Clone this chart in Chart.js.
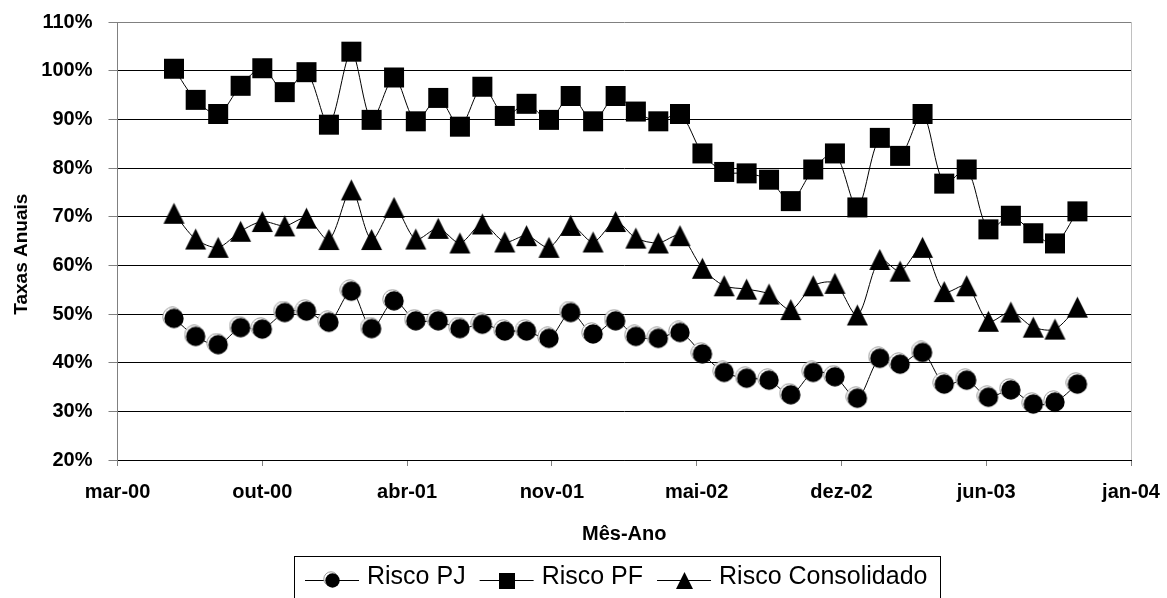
<!DOCTYPE html>
<html>
<head>
<meta charset="utf-8">
<title>Taxas Anuais</title>
<script src="https://cdn.jsdelivr.net/npm/chart.js@4.4.1/dist/chart.umd.min.js"></script>
<style>
  html, body { margin: 0; padding: 0; background: #fff; }
  canvas { display: block; }
</style>
</head>
<body>
<canvas id="riscoChart" width="1167" height="598"></canvas>
<script>
// meses dos dados (um ponto por mes)
const meses = [
  '2000-06', '2000-07', '2000-08', '2000-09', '2000-10', '2000-11', '2000-12',
  '2001-01', '2001-02', '2001-03', '2001-04', '2001-05', '2001-06', '2001-07',
  '2001-08', '2001-09', '2001-10', '2001-11', '2001-12', '2002-01', '2002-02',
  '2002-03', '2002-04', '2002-05', '2002-06', '2002-07', '2002-08', '2002-09',
  '2002-10', '2002-11', '2002-12', '2003-01', '2003-02', '2003-03', '2003-04',
  '2003-05', '2003-06', '2003-07', '2003-08', '2003-09', '2003-10', '2003-11'
];

const riscoPJ = [
  49.1, 45.4, 43.7, 47.2, 46.9, 50.3, 50.6, 48.3, 54.7, 47.0,
  52.7, 48.6, 48.6, 47.0, 47.9, 46.5, 46.5, 45.0, 50.3, 45.9,
  48.6, 45.4, 45.0, 46.2, 41.8, 38.0, 36.8, 36.4, 33.4, 38.0,
  37.1, 32.7, 40.9, 39.7, 42.1, 35.6, 36.4, 32.9, 34.4, 31.5,
  31.9, 35.6
];

const riscoPF = [
  100.4, 94.0, 91.1, 96.9, 100.5, 95.6, 99.7, 88.9, 103.9, 89.9,
  98.6, 89.6, 94.4, 88.5, 96.7, 90.7, 93.2, 89.9, 94.8, 89.6,
  94.8, 91.6, 89.6, 91.1, 83.0, 79.2, 78.9, 77.6, 73.2, 79.7,
  83.0, 71.9, 86.2, 82.5, 91.1, 76.8, 79.7, 67.4, 70.2, 66.6,
  64.5, 71.1
];

const riscoConsolidado = [
  70.7, 65.4, 63.7, 67.0, 69.0, 68.1, 69.7, 65.3, 75.5, 65.3,
  71.9, 65.4, 67.6, 64.6, 68.5, 64.8, 66.1, 63.7, 68.2, 64.8,
  69.0, 65.6, 64.6, 66.1, 59.4, 55.8, 55.1, 54.1, 50.9, 55.8,
  56.3, 49.8, 61.2, 58.8, 63.7, 54.6, 55.8, 48.5, 50.4, 47.3,
  46.9, 51.4
];

// eixo de datas: inicio e passo em dias, como no grafico original
const xInicio = '2000-03-15';
const xPassoDias = 200;
const xTickLabels = ['mar-00', 'out-00', 'abr-01', 'nov-01', 'mai-02', 'dez-02', 'jun-03', 'jan-04'];
const yMin = 20, yMax = 110, yPasso = 10;

const fonte = "'Liberation Sans', Arial, Helvetica, sans-serif";
Chart.defaults.font.family = fonte;
Chart.defaults.color = '#000';

function utc(s) {
  const p = s.split('-').map(Number);
  return Date.UTC(p[0], p[1] - 1, p[2] || 1);
}
function dias(s) {
  return Math.round((utc(s) - utc(xInicio)) / 864e5);
}

// marcadores estilo Excel
function marcador(tipo, tam) {
  const c = document.createElement('canvas');
  const s = tam + 4;
  c.width = s; c.height = s;
  const g = c.getContext('2d');
  const m = s / 2;
  if (tipo === 'circle') {
    const r = tam / 2 - 0.3;
    g.beginPath();
    g.arc(m - 1.5, m - 1.5, r, 0, Math.PI * 2);
    g.fillStyle = '#fff'; g.fill();
    g.strokeStyle = '#9a9a9a'; g.lineWidth = 1; g.stroke();
    g.beginPath();
    g.arc(m, m, r, 0, Math.PI * 2);
    g.fillStyle = '#000'; g.fill();
  } else if (tipo === 'rect') {
    g.fillStyle = '#000';
    g.fillRect(m - tam / 2, m - tam / 2, tam, tam);
  } else {
    g.fillStyle = '#000';
    g.beginPath();
    g.moveTo(m, m - tam / 2);
    g.lineTo(m + tam / 2, m + tam / 2);
    g.lineTo(m - tam / 2, m + tam / 2);
    g.closePath();
    g.fill();
  }
  return c;
}

const marcadores = [marcador('circle', 20), marcador('rect', 20), marcador('triangle', 21)];
const marcadoresLegenda = [marcador('circle', 15), marcador('rect', 16), marcador('triangle', 17)];

function serie(label, valores, i) {
  return {
    label: label,
    data: meses.map((m, k) => ({ x: dias(m), y: valores[k] })),
    borderColor: '#000',
    backgroundColor: '#000',
    borderWidth: 1,
    tension: 0.3,
    fill: false,
    pointStyle: marcadores[i],
    pointRadius: 10,
    pointHoverRadius: 10
  };
}

// legenda com moldura, desenhada abaixo do titulo do eixo x
const legendaPlugin = {
  id: 'legendaCaixa',
  afterDraw(chart) {
    const ctx = chart.ctx;
    const yLinha = 580.5, yTexto = 577;
    ctx.save();
    ctx.font = '25px ' + fonte;
    ctx.textBaseline = 'middle';
    ctx.textAlign = 'left';
    ctx.fillStyle = '#000';
    ctx.strokeStyle = '#000';
    ctx.lineWidth = 1;
    let x = 305;
    chart.data.datasets.forEach((ds, i) => {
      ctx.beginPath();
      ctx.moveTo(x, yLinha);
      ctx.lineTo(x + 54, yLinha);
      ctx.stroke();
      const m = marcadoresLegenda[i];
      ctx.drawImage(m, Math.round(x + 27 - m.width / 2), Math.round(yLinha - m.height / 2));
      ctx.fillText(ds.label, x + 62, yTexto);
      x += 62 + ctx.measureText(ds.label).width + 14;
    });
    ctx.strokeRect(294.5, 556.5, Math.round(x - 14 + 13 - 294), 60);
    ctx.restore();
  }
};

const config = {
  type: 'line',
  data: {
    datasets: [
      serie('Risco PJ', riscoPJ, 0),
      serie('Risco PF', riscoPF, 1),
      serie('Risco Consolidado', riscoConsolidado, 2)
    ]
  },
  options: {
    responsive: false,
    animation: false,
    layout: { padding: { top: 22, right: 36, bottom: 0, left: 0 } },
    plugins: {
      legend: { display: false },
      tooltip: { enabled: false }
    },
    scales: {
      x: {
        type: 'linear',
        min: 0,
        max: xPassoDias * (xTickLabels.length - 1),
        ticks: {
          stepSize: xPassoDias,
          autoSkip: false,
          maxRotation: 0,
          padding: 14,
          color: '#000',
          font: { size: 20, weight: 'bold' },
          callback: (v, i) => xTickLabels[i]
        },
        grid: {
          drawOnChartArea: true,
          color: c => c.index === xTickLabels.length - 1 ? '#c0c0c0' : 'rgba(0,0,0,0)',
          tickColor: '#808080',
          tickLength: 6,
          lineWidth: 1
        },
        border: { color: '#000', width: 1 },
        title: {
          display: true,
          text: 'Mês-Ano',
          color: '#000',
          font: { size: 20, weight: 'bold' },
          padding: { top: 0, bottom: 52 }
        },
        afterFit: s => { s.height = 138; s.paddingLeft = 0; s.paddingRight = 0; }
      },
      y: {
        min: yMin,
        max: yMax,
        ticks: {
          stepSize: yPasso,
          padding: 16,
          color: '#000',
          font: { size: 20, weight: 'bold' },
          callback: v => v + '%'
        },
        grid: {
          color: c => c.tick && c.tick.value === yMax ? '#808080' : '#000',
          tickColor: '#808080',
          tickLength: 9,
          lineWidth: 1
        },
        border: { color: '#808080', width: 1 },
        title: {
          display: true,
          text: 'Taxas Anuais     ',
          color: '#000',
          font: { size: 19, weight: 'bold' },
          padding: { top: 10, bottom: 0 }
        },
        afterFit: s => { s.width = 117.5; s.paddingTop = 0; s.paddingBottom = 0; }
      }
    }
  },
  plugins: [legendaPlugin]
};

const riscoChart = new Chart(document.getElementById('riscoChart'), config);
</script>
</body>
</html>
